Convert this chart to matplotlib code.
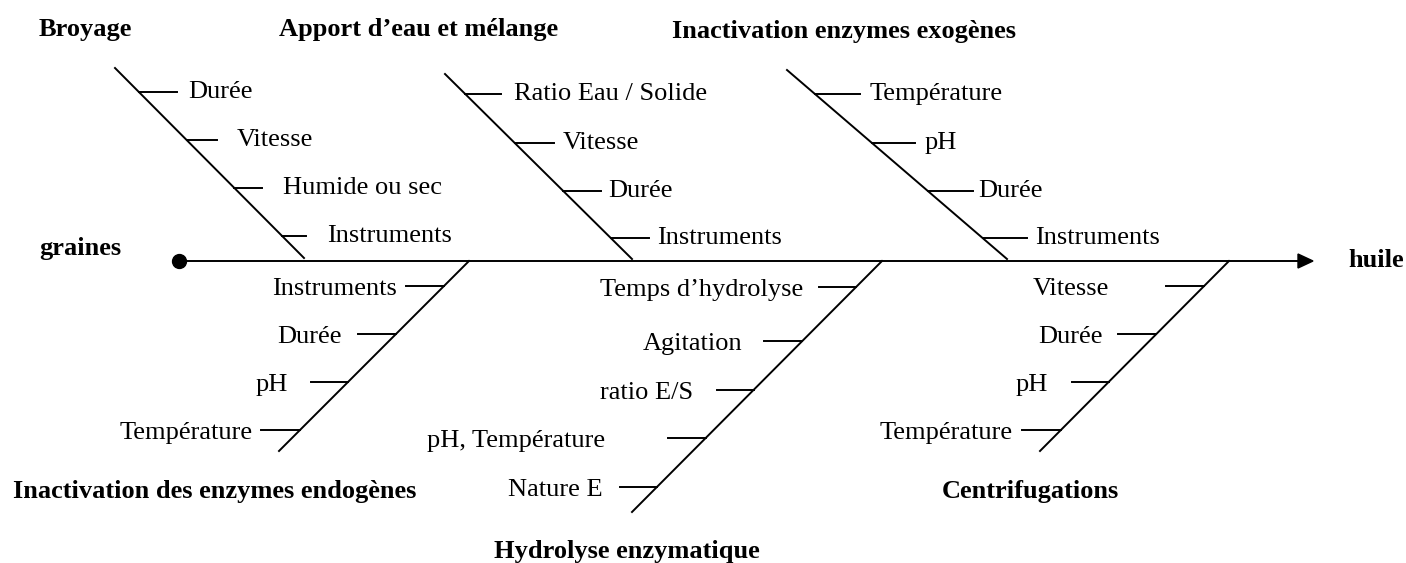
import matplotlib
matplotlib.use("Agg")
import matplotlib.pyplot as plt

# fishbone content
topCauses = ["Broyage", "Apport d’eau et mélange", "Inactivation enzymes exogènes"]
topFactors = [
    ["Durée", "Vitesse", "Humide ou sec", "Instruments"],
    ["Ratio Eau / Solide", "Vitesse", "Durée", "Instruments"],
    ["Température", "pH", "Durée", "Instruments"],
]
bottomCauses = ["Inactivation des enzymes endogènes", "Hydrolyse enzymatique", "Centrifugations"]
bottomFactors = [
    ["Instruments", "Durée", "pH", "Température"],
    ["Temps d’hydrolyse", "Agitation", "ratio E/S", "pH, Température", "Nature E"],
    ["Vitesse", "Durée", "pH", "Température"],
]
startLabel = "graines"
endLabel = "huile"

# layout, pixel coordinates with y pointing down
W, H = 1406, 563
spineY = 261
spineX = (179, 1298)
arrowTip = 1313
topBones = [((115, 68), (304, 258)), ((445, 74), (632, 259)), ((787, 70), (1007, 259))]
topTickY = [[92, 140, 188, 236], [94, 143, 191, 238], [94, 143, 191, 238]]
topTickLen = [[38, 30, 28, 24], [36, 39, 38, 38], [45, 43, 45, 44]]
topLabelX = [[188, 237, 283, 327], [514, 563, 608, 657], [870, 925, 978, 1035]]
topTitlePos = [(39, 36, "left"), (279, 36, "left"), (672, 38, "left")]
bottomBones = [((469, 261), (279, 451)), ((882, 261), (632, 512)), ((1229, 261), (1040, 451))]
bottomTickY = [[286, 334, 382, 430], [287, 341, 390, 438, 487], [286, 334, 382, 430]]
bottomTickLen = [[38, 38, 37, 39], [37, 38, 37, 38, 37], [38, 38, 37, 39]]
bottomLabelX = [[397, 342, 288, 253], [803, 742, 693, 605, 603], [1109, 1103, 1048, 1013]]
bottomTitlePos = [(13, 498, "left"), (627, 558, "center"), (1030, 498, "center")]

plt.rcParams["font.family"] = ["Liberation Serif", "DejaVu Serif"]
FS = 19
LW = 1.4


def xOnLine(p0, p1, y):
    (x0, y0), (x1, y1) = p0, p1
    return x0 + (x1 - x0) * (y - y0) / (y1 - y0)


fig = plt.figure(figsize=(W / 100, H / 100), dpi=100)
ax = fig.add_axes([0, 0, 1, 1])
ax.set_xlim(0, W)
ax.set_ylim(H, 0)
ax.axis("off")

# spine
ax.plot(spineX, [spineY, spineY], color="black", lw=LW, solid_capstyle="butt")
ax.fill([spineX[1], arrowTip, spineX[1]], [spineY - 7, spineY, spineY + 7], color="black")
ax.plot(spineX[0], spineY, "o", color="black", ms=10)
ax.text(39, 255, startLabel, fontsize=FS, fontweight="bold", ha="left", va="baseline")
ax.text(1348, 267, endLabel, fontsize=FS, fontweight="bold", ha="left", va="baseline")

# upper bones: ticks go right of the bone, labels after
for cause, factors, bone, ys, tls, lxs, (tx, ty, ha) in zip(
        topCauses, topFactors, topBones, topTickY, topTickLen, topLabelX, topTitlePos):
    ax.plot([bone[0][0], bone[1][0]], [bone[0][1], bone[1][1]], color="black", lw=LW)
    for name, y, tl, lx in zip(factors, ys, tls, lxs):
        x = xOnLine(bone[0], bone[1], y)
        ax.plot([x, x + tl], [y, y], color="black", lw=LW)
        ax.text(lx, y + 6, name, fontsize=FS, ha="left", va="baseline")
    ax.text(tx, ty, cause, fontsize=FS, fontweight="bold", ha=ha, va="baseline")

# lower bones: ticks go left of the bone, labels before
for cause, factors, bone, ys, tls, lxs, (tx, ty, ha) in zip(
        bottomCauses, bottomFactors, bottomBones, bottomTickY, bottomTickLen, bottomLabelX,
        bottomTitlePos):
    ax.plot([bone[0][0], bone[1][0]], [bone[0][1], bone[1][1]], color="black", lw=LW)
    for name, y, tl, lx in zip(factors, ys, tls, lxs):
        x = xOnLine(bone[0], bone[1], y)
        ax.plot([x - tl, x], [y, y], color="black", lw=LW)
        ax.text(lx, y + 9, name, fontsize=FS, ha="right", va="baseline")
    ax.text(tx, ty, cause, fontsize=FS, fontweight="bold", ha=ha, va="baseline")

fig.savefig("out.png", dpi=100)
plt.close(fig)
